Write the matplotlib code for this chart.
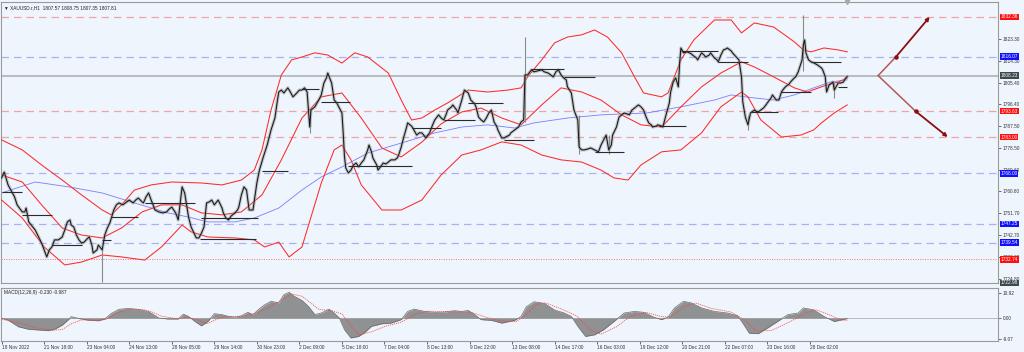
"""
XAUUSD H1 chart with Bollinger bands, moving average, levels and MACD panel.
"""
import matplotlib
matplotlib.use("Agg")
import matplotlib.pyplot as plt
import matplotlib.transforms as mtransforms

plt.rcParams["font.family"] = ["Liberation Sans", "DejaVu Sans"]

# ---------------------------------------------------------------------------
# DATA (x = H1 bar index from 18 Nov 2022)
# ---------------------------------------------------------------------------
price_bar = [0, 2, 5, 8, 10, 12, 16, 18, 19, 21, 23, 26, 29, 31, 33, 35, 37, 39, 41, 44,
             47, 49, 51, 53, 54, 56, 58, 60, 62, 64, 67, 68, 70, 71, 74, 75, 78, 80, 82, 84,
             87, 89, 91, 94, 97, 99, 102, 104, 106, 109, 110, 112, 114, 116, 119, 122, 125, 128, 130, 132,
             135, 137, 140, 142, 145, 147, 150, 151, 153, 155, 157, 159, 161, 163, 165, 168, 171, 172, 174, 176,
             178, 181, 183, 184, 186, 188, 190, 192, 195, 198, 200, 203, 206, 209, 212, 214, 215, 217, 219, 222,
             224, 226, 229, 231, 233, 235, 237, 239, 240, 243, 246, 248, 250, 252, 253, 256, 258, 260, 262, 264,
             265, 266, 267, 269, 271, 273, 275, 277, 279, 281, 284, 285, 287, 288, 291, 292, 295, 296, 298, 300,
             302, 305, 307, 308, 310, 312, 314, 315, 318, 319, 322, 324, 326, 328, 329, 332, 334, 336, 339, 341,
             343, 345, 346, 349, 350, 353, 354, 357, 359, 362, 364, 367, 368, 370, 372, 374, 376, 378, 380, 382,
             384, 385, 388, 390, 391, 394, 395, 398, 400, 401, 403, 405, 406, 408, 411, 413, 416, 419, 421, 424,
             426, 428, 430, 432, 434, 436, 438, 439, 442, 444, 447, 448, 450, 452, 455, 457, 460, 463, 465, 467,
             469, 471, 473, 474, 477, 479, 481, 483, 485, 487, 489, 491, 493, 494, 496, 498, 500, 502, 504, 505,
             508, 509, 512, 513, 515, 518, 519, 521, 523, 525, 526, 527, 529, 532, 535, 536, 539, 540, 543, 545,
             546, 549, 550, 553, 555, 556, 558, 560, 562, 563, 566, 567, 570, 572, 574, 575, 577, 579, 581, 584,
             585, 587, 589, 591, 593, 594, 597, 598, 601, 603, 605, 606, 608, 611, 612, 615, 616, 618, 621, 622,
             623, 624, 626, 628, 630, 633, 636, 637, 639, 640, 642, 643, 645, 646, 649, 651, 653, 655, 656]
price_close = [1766.2, 1768.6, 1763.3, 1760.4, 1758.4, 1755.1, 1752.2, 1752.2, 1753.8, 1748.1,
               1746.8, 1744.8, 1741.5, 1739.4, 1736.6, 1733.7, 1736.6, 1737.8, 1740.7, 1740.7,
               1741.9, 1744.8, 1748.1, 1748.9, 1746.8, 1746.0, 1742.7, 1740.7, 1739.4, 1739.8,
               1741.5, 1741.9, 1738.6, 1735.3, 1736.6, 1738.6, 1736.6, 1742.7, 1745.6, 1747.7,
               1753.0, 1755.1, 1755.9, 1755.1, 1756.3, 1757.1, 1755.9, 1757.1, 1757.9, 1756.3,
               1755.9, 1758.4, 1760.0, 1757.1, 1753.0, 1752.2, 1751.8, 1752.2, 1753.4, 1754.2,
               1751.8, 1748.9, 1762.5, 1760.0, 1750.1, 1746.0, 1742.7, 1741.5, 1741.5, 1743.5,
               1746.0, 1755.9, 1756.3, 1757.1, 1755.1, 1757.1, 1753.8, 1751.8, 1749.7, 1748.9,
               1750.5, 1751.8, 1753.0, 1754.2, 1759.2, 1762.5, 1761.2, 1753.0, 1753.0, 1764.1,
               1769.4, 1774.8, 1779.7, 1785.9, 1790.8, 1798.2, 1801.5, 1802.3, 1801.1, 1803.2,
               1801.5, 1799.5, 1801.1, 1802.3, 1802.3, 1803.2, 1801.5, 1787.1, 1794.1, 1795.4,
               1798.2, 1800.3, 1805.2, 1807.3, 1809.3, 1805.2, 1798.2, 1797.0, 1794.9, 1792.9,
               1784.7, 1774.8, 1770.3, 1768.2, 1769.4, 1771.5, 1772.3, 1770.7, 1772.3, 1773.6,
               1777.7, 1779.7, 1776.8, 1774.4, 1771.5, 1769.4, 1771.5, 1772.3, 1771.9, 1772.7,
               1773.6, 1773.6, 1774.4, 1775.6, 1778.9, 1783.0, 1786.7, 1788.8, 1787.5, 1786.7,
               1783.8, 1784.7, 1784.7, 1783.4, 1782.6, 1784.7, 1787.5, 1790.0, 1792.1, 1790.8,
               1790.0, 1792.5, 1794.1, 1795.4, 1796.2, 1794.1, 1792.9, 1798.2, 1802.3, 1801.1,
               1798.2, 1796.6, 1795.4, 1791.2, 1790.0, 1789.2, 1790.8, 1792.9, 1794.1, 1789.2,
               1787.5, 1785.9, 1782.6, 1782.6, 1783.0, 1783.8, 1784.7, 1785.9, 1786.7, 1787.1,
               1789.2, 1790.0, 1808.5, 1808.5, 1810.6, 1809.8, 1810.2, 1810.6, 1809.8, 1809.3,
               1808.5, 1807.7, 1809.8, 1810.6, 1808.5, 1807.3, 1806.5, 1803.6, 1801.1, 1794.1,
               1790.0, 1778.9, 1777.7, 1777.7, 1778.1, 1778.5, 1777.7, 1776.9, 1779.7, 1781.8,
               1783.8, 1777.7, 1779.7, 1783.8, 1787.1, 1791.2, 1792.1, 1792.9, 1792.5, 1792.1,
               1794.1, 1794.9, 1795.8, 1796.2, 1795.4, 1794.1, 1791.2, 1788.8, 1788.0, 1787.1,
               1787.5, 1788.0, 1787.5, 1787.1, 1791.2, 1797.0, 1801.5, 1805.6, 1807.3, 1803.6,
               1813.4, 1819.6, 1817.6, 1818.0, 1817.2, 1816.7, 1815.5, 1814.7, 1817.6, 1816.7,
               1815.9, 1816.7, 1817.6, 1815.5, 1814.7, 1813.9, 1816.7, 1818.8, 1819.2, 1819.6,
               1818.4, 1817.6, 1815.9, 1814.7, 1807.7, 1797.4, 1791.2, 1788.0, 1792.9, 1794.1,
               1793.7, 1793.3, 1794.1, 1794.9, 1796.2, 1797.0, 1799.1, 1800.3, 1798.2, 1798.2,
               1801.5, 1802.3, 1803.6, 1804.8, 1805.6, 1807.3, 1807.7, 1809.8, 1814.7, 1820.9,
               1822.9, 1817.6, 1814.7, 1813.9, 1813.5, 1812.6, 1811.4, 1810.6, 1807.7, 1801.5,
               1804.4, 1804.8, 1805.6, 1802.3, 1805.2, 1805.2, 1805.6, 1807.3, 1807.8]

# long wicks (bar, low, high)
wick_bar = [78, 239, 406, 448, 471, 579, 622, 646]
wick_low = [1723.4, 1784.5, 1789.0, 1776.0, 1776.0, 1785.9, 1810.0, 1799.0]
wick_high = [1737.0, 1795.0, 1824.1, 1792.0, 1784.0, 1792.0, 1833.2, 1805.0]

# Bollinger bands
upper_bar = [0, 16, 31, 47, 62, 78, 85, 93, 103, 116, 132, 155, 171, 186, 196, 202, 209, 217, 225, 233,
             243, 253, 264, 274, 284, 300, 310, 318, 326, 336, 346, 362, 377, 393, 403, 408, 419, 429, 439, 450,
             460, 470, 481, 491, 498, 512, 517, 527, 537, 553, 566, 574, 584, 599, 615, 622, 628, 638, 649, 656]
upper_val = [1781.8, 1777.7, 1771.5, 1765.3, 1759.2, 1753.0, 1751.0, 1755.1, 1761.2, 1763.3,
             1764.5, 1764.1, 1763.3, 1765.3, 1769.4, 1777.7, 1794.1, 1808.5, 1814.7, 1815.9,
             1817.6, 1816.7, 1813.4, 1817.6, 1815.9, 1809.3, 1798.2, 1790.0, 1790.8, 1794.1,
             1797.0, 1802.3, 1801.5, 1802.3, 1803.2, 1807.7, 1814.7, 1821.7, 1824.1, 1825.0,
             1827.0, 1824.1, 1817.6, 1807.7, 1801.1, 1799.5, 1801.1, 1814.7, 1822.9, 1831.1,
             1831.1, 1825.8, 1829.9, 1828.2, 1822.1, 1818.8, 1818.0, 1819.6, 1818.8, 1818.0]
middle_bar = [0, 16, 31, 47, 62, 78, 93, 109, 124, 140, 155, 171, 186, 202, 217, 233, 248, 264, 279, 295,
              310, 326, 341, 357, 372, 388, 403, 419, 434, 450, 465, 481, 496, 512, 527, 543, 558, 574, 584, 599,
              615, 625, 638, 649, 656]
middle_val = [1767.4, 1764.5, 1755.1, 1745.6, 1742.7, 1741.5, 1745.6, 1752.2, 1755.1, 1755.1,
              1751.8, 1751.0, 1752.2, 1759.2, 1773.6, 1790.8, 1799.5, 1801.1, 1790.8, 1778.5,
              1774.8, 1780.9, 1788.4, 1793.3, 1794.9, 1790.8, 1788.0, 1796.2, 1803.2, 1801.5,
              1798.2, 1792.1, 1788.0, 1787.1, 1795.4, 1803.6, 1809.3, 1813.9, 1811.8, 1807.7,
              1803.2, 1801.5, 1804.0, 1805.6, 1807.3]
lower_bar = [0, 16, 33, 49, 62, 78, 93, 111, 124, 140, 147, 160, 181, 196, 204, 215, 223, 233, 240, 248,
             258, 264, 271, 279, 295, 310, 326, 341, 357, 372, 388, 403, 419, 434, 450, 465, 475, 486, 496, 512,
             527, 543, 558, 574, 579, 589, 605, 620, 630, 636, 646, 656]
lower_val = [1757.1, 1749.7, 1737.8, 1730.4, 1731.6, 1734.5, 1733.7, 1732.4, 1737.8, 1746.8,
             1744.0, 1741.9, 1741.5, 1740.7, 1737.8, 1739.8, 1733.7, 1737.8, 1750.1, 1764.1,
             1777.7, 1779.7, 1773.6, 1763.3, 1753.0, 1753.0, 1757.1, 1767.4, 1775.6, 1777.7,
             1781.0, 1779.7, 1775.6, 1773.6, 1772.7, 1769.4, 1766.2, 1765.3, 1771.5, 1776.9,
             1777.7, 1784.7, 1795.4, 1801.5, 1799.5, 1790.0, 1783.0, 1783.8, 1785.9, 1788.8,
             1792.9, 1796.2]

# slow moving average (blue)
ma_bar = [0, 26, 52, 78, 103, 129, 145, 160, 181, 196, 215, 233, 248, 264, 284, 310, 336, 357, 377, 398,
          413, 439, 465, 501, 527, 553, 566, 571, 584, 599, 615, 630, 643, 656]
ma_val = [1760.0, 1764.5, 1762.5, 1760.0, 1755.9, 1751.8, 1750.1, 1748.1, 1748.1, 1749.7,
          1753.8, 1761.2, 1766.6, 1770.7, 1776.4, 1780.5, 1784.7, 1787.1, 1788.0, 1786.7,
          1788.8, 1790.8, 1792.1, 1792.9, 1795.4, 1798.2, 1800.3, 1799.9, 1799.05, 1798.2,
          1800.3, 1803.2, 1805.6, 1806.5]

# short black swing levels (start bar, end bar, price)
seg_start = [0, 16, 39, 78, 85, 111, 155, 154, 202, 233, 248, 269, 318, 343, 362, 390, 411, 436,
             460, 510, 527, 556, 581, 605, 628, 649]
seg_end = [16, 39, 62, 85, 106, 150, 199, 197, 222, 246, 270, 318, 341, 367, 389, 413, 436, 460,
           483, 531, 556, 579, 602, 628, 651, 656]
seg_price = [1760.4, 1751.0, 1738.6, 1740.7, 1750.1, 1755.9, 1749.7, 1741.0, 1769.0, 1802.8,
             1797.4, 1771.1, 1786.7, 1790.0, 1797.0, 1781.8, 1811.0, 1807.7, 1776.9, 1787.5,
             1818.4, 1813.9, 1793.3, 1801.5, 1813.9, 1803.4]

# horizontal levels
red_dashed = [1832.36, 1793.63, 1783.00]
blue_dashed = [1816.07, 1768.00, 1747.25, 1739.54]
red_dotted = [1732.74]
last_price = 1808.23
chart_low = 1722.98

# projection from the last price to the targets
proj_origin = (680, 1808.23)
proj_up = [(694, 1816.07), (720, 1832.36)]
proj_down = [(709, 1793.63), (734, 1783.00)]

# price scale labels
scale_ticks = [1823.30, 1814.30, 1805.40, 1796.40, 1787.50, 1778.50, 1769.60, 1760.60,
               1751.70, 1742.70, 1733.80, 1724.80]

# MACD(12,26,9)
macd_bar = [0, 5, 13, 21, 29, 36, 41, 47, 52, 54, 60, 67, 75, 80, 85, 91, 98, 106, 114, 122,
            129, 137, 141, 145, 150, 155, 160, 165, 171, 176, 181, 186, 191, 195, 199, 204, 209, 215, 219, 223,
            227, 233, 238, 243, 248, 254, 258, 262, 266, 271, 277, 281, 287, 295, 302, 310, 315, 320, 328, 336,
            343, 351, 357, 362, 367, 372, 380, 388, 398, 403, 407, 413, 421, 429, 436, 442, 447, 453, 460, 467,
            475, 483, 491, 498, 506, 512, 517, 522, 529, 535, 543, 553, 563, 571, 575, 580, 587, 594, 602, 610,
            618, 622, 630, 638, 646, 656]
macd_val = [0.0, -0.9, -3.8, -4.9, -5.2, -5.5, -4.9, -3.1, -0.6, 0.6, -0.2, -0.9, -1.2, -0.4, 2.0,
            3.8, 4.2, 3.8, 2.8, 0.0, -0.4, -0.4, 1.7, 0.7, -1.5, -3.4, -1.5, 1.9, 1.5, 0.7,
            0.4, 1.0, 2.5, 1.5, 3.6, 5.8, 7.3, 6.6, 10.2, 11.2, 9.5, 7.7, 5.1, 1.5, 2.2,
            3.9, 2.2, 0.0, -5.1, -8.7, -8.0, -6.6, -3.6, -2.5, -2.2, -0.7, 2.9, 3.9, 2.9, 2.5,
            2.6, 3.2, 2.9, 3.3, 1.5, -0.7, -1.0, -2.2, -1.0, 0.7, 4.9, 7.1, 6.4, 3.5, 2.3,
            0.7, -3.6, -8.0, -7.3, -5.1, -1.5, 2.2, 2.9, 2.5, 0.4, -0.7, 0.4, 4.4, 7.3, 6.6,
            4.4, 2.9, 2.2, 1.0, -2.2, -6.6, -6.8, -4.4, -1.5, 1.5, 2.2, 4.4, 3.6, 0.7, -1.5, -0.23]
signal_bar = [0, 16, 27, 39, 47, 54, 62, 74, 81, 89, 97, 109, 116, 124, 136, 143, 151, 159, 167, 174,
              186, 198, 205, 213, 225, 233, 240, 246, 256, 264, 271, 277, 287, 298, 310, 322, 329, 349, 364, 376,
              388, 399, 407, 415, 422, 434, 446, 457, 465, 477, 488, 500, 512, 519, 531, 539, 550, 566, 577, 585,
              597, 612, 624, 632, 643, 651, 656]
signal_val = [-0.5, -2.5, -4.3, -5.3, -5.0, -2.5, -0.8, -1.0, -0.6, 2.0, 3.6, 3.8, 2.8, 0.8, -0.3,
              0.3, -0.5, -2.5, -0.5, 0.8, 0.6, 2.2, 4.0, 6.5, 10.5, 9.5, 6.5, 3.8, 3.2, 1.8,
              -3.5, -7.3, -6.0, -3.5, -1.8, 1.8, 3.0, 2.8, 2.6, 0.3, -1.3, -1.6, 1.5, 6.0, 6.6,
              4.0, 1.0, -5.2, -7.0, -3.8, 0.8, 2.5, 0.6, 0.5, 5.5, 6.5, 4.3, 2.6, -1.0, -5.5,
              -5.5, -1.5, 2.2, 3.6, 1.2, -0.8, -0.987]
macd_ticks = [10.92, 0.00, -9.07]

time_labels = ["18 Nov 2022", "21 Nov 18:00", "23 Nov 04:00", "24 Nov 13:00", "28 Nov 05:00",
               "29 Nov 14:00", "30 Nov 23:00", "2 Dec 09:00", "5 Dec 18:00", "7 Dec 04:00",
               "8 Dec 13:00", "9 Dec 22:00", "13 Dec 08:00", "14 Dec 17:00", "16 Dec 03:00",
               "19 Dec 12:00", "20 Dec 21:00", "22 Dec 07:00", "23 Dec 16:00", "28 Dec 02:00"]
time_label_bar = [0, 33, 66, 99, 132, 165, 198, 231, 264, 297, 330, 363, 396, 429, 462,
                  495, 528, 561, 594, 627]

# ---------------------------------------------------------------------------
# FIGURE
# ---------------------------------------------------------------------------
BG = "#eef5fc"
FRAME = "#9a9a9a"
FS = 3.4

fig = plt.figure(figsize=(10.24, 3.52), dpi=100, facecolor=BG)
ax = fig.add_axes([1 / 1024, 1 - 283 / 352, 997 / 1024, 281 / 352], facecolor=BG)
axm = fig.add_axes([1 / 1024, 11 / 352, 997 / 1024, 53 / 352], facecolor=BG, sharex=ax)

ax.set_xlim(-0.5, 773)
ax.set_ylim(chart_low, 1838.5)
axm.set_ylim(-10.0, 13.1)

# --- levels ---
for lv in red_dashed:
    ax.axhline(lv, color="#f2a2a8", lw=0.9, dashes=(6, 4), zorder=1)
for lv in blue_dashed:
    ax.axhline(lv, color="#a9b0f7", lw=0.9, dashes=(6, 4), zorder=1)
for lv in red_dotted:
    ax.axhline(lv, color="#ff7070", lw=0.7, ls=(0, (1, 1.5)), zorder=1)
ax.axhline(last_price, color="#b8bcc0", lw=1.4, zorder=1)

# --- indicators on price ---
ax.plot(ma_bar, ma_val, color="#7c7cff", lw=0.6, zorder=2)
for bx, by in [(upper_bar, upper_val), (middle_bar, middle_val), (lower_bar, lower_val)]:
    ax.plot(bx, by, color="#ff2a2a", lw=0.75, zorder=3)

# --- price ---
ax.vlines(wick_bar, wick_low, wick_high, color="#8a8a8a", lw=0.8, zorder=4)
ax.plot(price_bar, price_close, color="#9a9a9a", lw=2.4, alpha=0.5, zorder=4)
ax.plot(price_bar, price_close, color="#1c1c1c", lw=0.8, zorder=5)
ax.hlines(seg_price, seg_start, seg_end, color="#2a2a2a", lw=0.8, zorder=5)

# --- projection lines ---
for pts in (proj_up, proj_down):
    (mx, my), (ex, ey) = pts
    ax.plot([proj_origin[0], mx], [proj_origin[1], my], color="#b35a5a", lw=1.1, zorder=6)
    ax.annotate("", xy=(ex, ey), xytext=(mx, my),
                arrowprops=dict(arrowstyle="-|>", color="#8b0f0f", lw=1.3,
                                mutation_scale=5, shrinkA=0, shrinkB=0), zorder=6)
    ax.plot([mx], [my], marker="o", ms=2.2, color="#8b0f0f", zorder=7)

# --- price scale on the right ---
ax.yaxis.tick_right()
ax.set_yticks(scale_ticks)
ax.set_yticklabels([f"{v:.2f}" for v in scale_ticks])
ax.tick_params(axis="y", labelsize=FS, length=2, width=0.5, pad=1.5,
               colors="#333333", direction="out")
ax.tick_params(axis="x", bottom=False, labelbottom=False)

trans = mtransforms.blended_transform_factory(ax.transAxes, ax.transData)
boxed = [(v, "#ff1010") for v in red_dashed + red_dotted] + \
        [(v, "#1010ff") for v in blue_dashed] + \
        [(last_price, "#3b4b4b"), (chart_low, "#3b4b4b")]
for v, c in boxed:
    ax.text(1.0025, v, f"{v:.2f}", transform=trans, fontsize=FS, color="white",
            va="center", ha="left", clip_on=False, zorder=10,
            bbox=dict(boxstyle="square,pad=0.18", fc=c, ec="none"))

for sp in ax.spines.values():
    sp.set_color(FRAME)
    sp.set_linewidth(0.8)

ax.text(0.003, 0.99, "\u25bc XAUUSD.r,H1  1807.57 1808.75 1807.35 1807.81",
        transform=ax.transAxes, fontsize=FS, color="#222222", va="top", ha="left")
# chart shift marker at the top
ax.plot([656], [1838.5], marker="v", ms=3, color="#a8a8a8", clip_on=False, zorder=8)

# --- MACD panel ---
axm.axhline(0, color="#b0b0b0", lw=0.6, zorder=1)
axm.fill_between(macd_bar, 0, macd_val, color="#808080", lw=0, alpha=0.85, zorder=2)
axm.plot(macd_bar, macd_val, color="#6a6a6a", lw=0.5, zorder=2)
axm.plot(signal_bar, signal_val, color="#ff4040", lw=0.55, ls=(0, (1.5, 1.2)), zorder=3)
axm.text(0.003, 0.96, "MACD(12,26,9) -0.230 -0.987", transform=axm.transAxes,
         fontsize=FS, color="#222222", va="top", ha="left")

axm.yaxis.tick_right()
axm.set_yticks(macd_ticks)
axm.set_yticklabels([f"{v:.2f}" for v in macd_ticks])
axm.tick_params(axis="y", labelsize=FS, length=2, width=0.5, pad=1.5, colors="#333333")
axm.set_xticks(time_label_bar)
axm.set_xticklabels(time_labels, ha="left")
axm.tick_params(axis="x", labelsize=FS, length=2, width=0.5, pad=1.2, colors="#333333")
for sp in axm.spines.values():
    sp.set_color(FRAME)
    sp.set_linewidth(0.8)

fig.savefig("out.png", dpi=100, facecolor=BG)
